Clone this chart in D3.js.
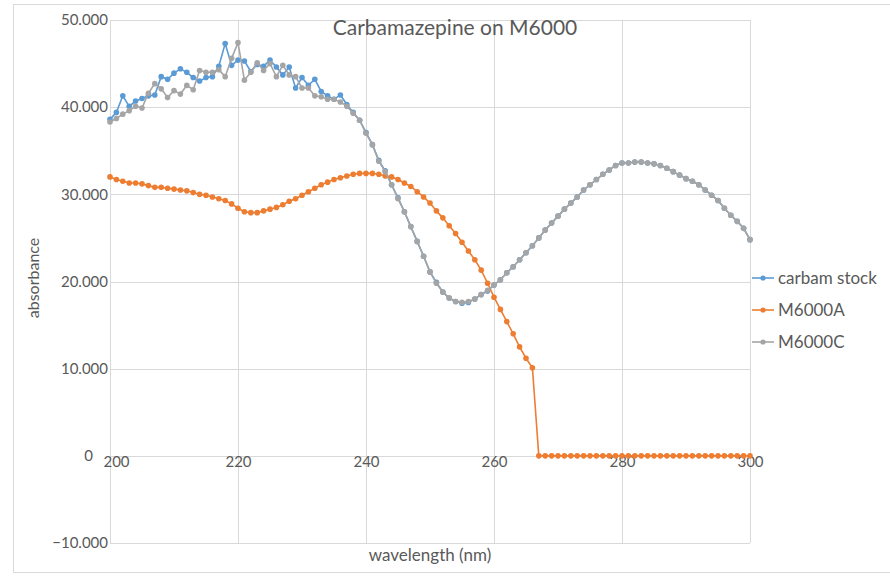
<!DOCTYPE html>
<html>
<head>
<meta charset="utf-8">
<script src="https://cdn.jsdelivr.net/npm/d3@7"></script>
<style>
  body { margin: 0; background: #fff; }
  #chart { width: 890px; height: 577px; }
  text { font-family: Lato, "Open Sans", sans-serif; fill: #595959; }
</style>
</head>
<body>
<div id="chart"></div>
<script>
// wavelength (nm), one reading per nm
const wavelengths = [
  200,201,202,203,204,205,206,207,208,209,210,211,212,213,214,215,216,217,218,219,
  220,221,222,223,224,225,226,227,228,229,230,231,232,233,234,235,236,237,238,239,
  240,241,242,243,244,245,246,247,248,249,250,251,252,253,254,255,256,257,258,259,
  260,261,262,263,264,265,266,267,268,269,270,271,272,273,274,275,276,277,278,279,
  280,281,282,283,284,285,286,287,288,289,290,291,292,293,294,295,296,297,298,299,
  300
];

const carbamStock = [
  38.6,39.4,41.3,40.1,40.7,41.0,41.3,41.4,43.5,43.2,43.9,44.4,44.0,43.4,43.0,43.4,43.5,44.7,47.3,44.8,
  45.4,45.3,44.1,44.9,44.7,45.4,44.6,43.7,44.6,42.2,43.4,42.5,43.2,41.8,41.3,40.9,41.4,40.3,39.4,38.5,
  37.1,35.7,33.9,32.7,31.1,29.6,28.0,26.3,24.6,22.9,21.1,19.9,18.8,18.1,17.7,17.5,17.6,18.0,18.5,18.9,
  19.6,20.2,21.0,21.7,22.5,23.3,24.1,25.0,25.9,26.7,27.5,28.3,29.0,29.7,30.5,31.1,31.7,32.3,32.8,33.3,
  33.6,33.6,33.7,33.7,33.6,33.5,33.3,33.0,32.6,32.2,31.8,31.5,31.1,30.5,29.9,29.3,28.4,27.6,26.9,26.1,
  24.8
];

const m6000A = [
  32.0,31.7,31.5,31.3,31.3,31.2,31.0,30.8,30.8,30.7,30.6,30.5,30.4,30.2,30.0,29.9,29.7,29.5,29.3,28.9,
  28.4,28.0,27.9,27.9,28.1,28.3,28.5,28.8,29.2,29.5,29.9,30.3,30.7,31.1,31.4,31.7,31.9,32.1,32.3,32.4,
  32.4,32.4,32.3,32.1,32.0,31.7,31.3,30.9,30.3,29.7,29.0,28.1,27.3,26.4,25.5,24.5,23.5,22.5,21.3,19.8,
  18.2,16.8,15.4,14.0,12.5,11.2,10.1,0,0,0,0,0,0,0,0,0,0,0,0,0,
  0,0,0,0,0,0,0,0,0,0,0,0,0,0,0,0,0,0,0,0,
  0
];

const m6000C = [
  38.3,38.7,39.2,39.6,40.1,39.9,41.6,42.7,42.1,41.1,41.9,41.5,42.5,42.0,44.2,44.0,44.0,44.3,43.5,45.6,
  47.4,43.1,44.0,45.1,44.2,45.0,43.5,44.8,43.7,43.5,42.2,42.2,41.3,41.2,40.9,40.9,40.6,40.1,39.3,38.5,
  37.0,35.7,33.8,32.6,31.1,29.5,28.0,26.3,24.6,22.9,21.1,19.8,18.8,18.1,17.7,17.6,17.7,18.0,18.5,19.0,
  19.6,20.2,21.0,21.7,22.5,23.3,24.1,25.0,25.9,26.7,27.5,28.3,29.0,29.7,30.5,31.1,31.7,32.3,32.8,33.3,
  33.6,33.6,33.7,33.7,33.6,33.5,33.3,33.0,32.6,32.2,31.8,31.5,31.1,30.5,29.9,29.3,28.4,27.6,26.9,26.1,
  24.8
];

const seriesNames = ["carbam stock", "M6000A", "M6000C"];
const seriesColors = ["#5B9BD5", "#ED7D31", "#A5A5A5"];
const xTicks = [200, 220, 240, 260, 280, 300];
const yTicks = [-10, 0, 10, 20, 30, 40, 50];

class SpectrumVis {

    constructor(_parentElement) {
        this.parentElement = _parentElement;
        this.series = [carbamStock, m6000A, m6000C].map((vals, i) => ({
            name: seriesNames[i],
            color: seriesColors[i],
            values: wavelengths.map((w, j) => ({x: w, y: vals[j]}))
        }));
        this.initVis();
    }

    initVis() {
        let vis = this;

        vis.margin = {top: 20, right: 140, bottom: 34, left: 110};
        vis.width = 890 - vis.margin.left - vis.margin.right;
        vis.height = 577 - vis.margin.top - vis.margin.bottom;

        vis.root = d3.select("#" + vis.parentElement).append("svg")
            .attr("width", 890)
            .attr("height", 577);

        // chart area border
        vis.root.append("rect")
            .attr("x", 13.5).attr("y", 4.5)
            .attr("width", 890).attr("height", 568)
            .attr("fill", "none")
            .attr("stroke", "#d9d9d9");

        vis.svg = vis.root.append("g")
            .attr("transform", `translate(${vis.margin.left}, ${vis.margin.top})`);

        vis.x = d3.scaleLinear().domain([200, 300]).range([0, vis.width]);
        vis.y = d3.scaleLinear().domain([-10, 50]).range([vis.height, 0]);

        // gridlines
        vis.svg.append("g")
            .selectAll("line.h")
            .data(yTicks)
            .join("line")
            .attr("x1", 0).attr("x2", vis.width)
            .attr("y1", d => Math.round(vis.y(d)) + 0.5)
            .attr("y2", d => Math.round(vis.y(d)) + 0.5)
            .attr("stroke", "#d9d9d9");

        vis.svg.append("g")
            .selectAll("line.v")
            .data(xTicks)
            .join("line")
            .attr("y1", 0).attr("y2", vis.height)
            .attr("x1", d => Math.round(vis.x(d)) + 0.5)
            .attr("x2", d => Math.round(vis.x(d)) + 0.5)
            .attr("stroke", "#d9d9d9");

        // y axis labels ("0" sits a bit further left, as in the original)
        let fmt = d3.format(".3f");
        vis.svg.append("g")
            .call(d3.axisLeft(vis.y).tickValues(yTicks).tickSize(0).tickPadding(2)
                .tickFormat(d => d === 0 ? "0" : fmt(d)))
            .call(g => g.select(".domain").remove())
            .selectAll("text")
            .attr("font-size", 15)
            .attr("font-family", "Lato")
            .attr("fill", "#595959")
            .attr("x", d => d === 0 ? -17 : -2);

        // x axis labels hug the zero line
        vis.svg.append("g")
            .attr("transform", `translate(0, ${vis.y(0)})`)
            .call(d3.axisBottom(vis.x).tickValues(xTicks).tickSize(0).tickPadding(1))
            .call(g => g.select(".domain").remove())
            .selectAll("text")
            .attr("font-size", 15)
            .attr("font-family", "Lato")
            .attr("fill", "#595959")
            .attr("dx", d => d === 200 ? 6 : 0);

        // titles
        vis.root.append("text")
            .attr("x", 455).attr("y", 35)
            .attr("text-anchor", "middle")
            .attr("font-size", 21)
            .text("Carbamazepine on M6000");

        vis.root.append("text")
            .attr("transform", "translate(39, 278) rotate(-90)")
            .attr("text-anchor", "middle")
            .attr("font-size", 16)
            .text("absorbance");

        vis.root.append("text")
            .attr("x", 430).attr("y", 561)
            .attr("text-anchor", "middle")
            .attr("font-size", 17)
            .text("wavelength (nm)");

        vis.updateVis();
    }

    updateVis() {
        let vis = this;

        let line = d3.line()
            .x(d => vis.x(d.x))
            .y(d => vis.y(d.y));

        let groups = vis.svg.selectAll("g.series")
            .data(vis.series)
            .join("g")
            .attr("class", "series");

        groups.append("path")
            .attr("d", d => line(d.values))
            .attr("fill", "none")
            .attr("stroke", d => d.color)
            .attr("stroke-width", 1.6);

        groups.each(function(s) {
            d3.select(this).selectAll("circle")
                .data(s.values)
                .join("circle")
                .attr("cx", d => vis.x(d.x))
                .attr("cy", d => vis.y(d.y))
                .attr("r", 2.8)
                .attr("fill", s.color);
        });

        // legend
        let legend = vis.root.append("g")
            .attr("transform", "translate(752, 278)")
            .selectAll("g")
            .data(vis.series)
            .join("g")
            .attr("transform", (d, i) => `translate(0, ${i * 32})`);

        legend.append("line")
            .attr("x1", 0).attr("x2", 22)
            .attr("stroke", d => d.color)
            .attr("stroke-width", 1.6);

        legend.append("circle")
            .attr("cx", 11).attr("r", 2.6)
            .attr("fill", d => d.color);

        legend.append("text")
            .attr("x", 26).attr("dy", "0.35em")
            .attr("font-size", 17)
            .text(d => d.name);
    }
}

new SpectrumVis("chart");
</script>
</body>
</html>
